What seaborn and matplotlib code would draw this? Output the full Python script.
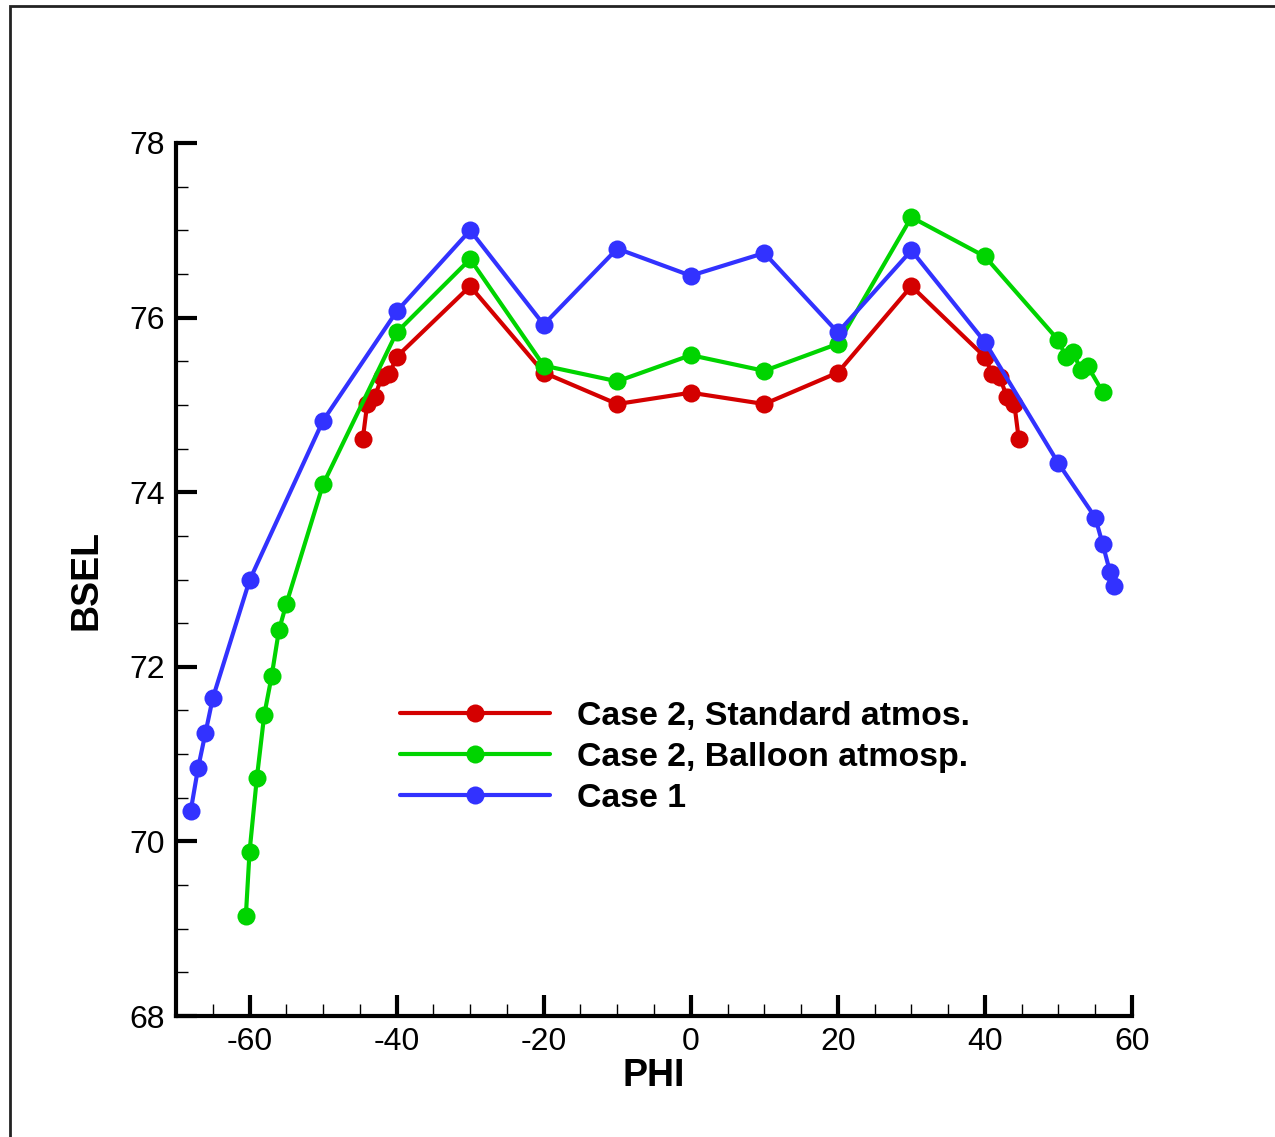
import numpy as np
import pandas as pd
import seaborn as sns
import matplotlib
matplotlib.use("Agg")
import matplotlib.pyplot as plt
from matplotlib.patches import Rectangle
from matplotlib.ticker import MultipleLocator

# ---- data ----
labels = ["Case 2, Standard atmos.", "Case 2, Balloon atmosp.", "Case 1"]
colors = ["#D40000", "#00D400", "#3232FF"]

red_x = [-44.6, -44, -43, -42, -41, -40, -30, -20, -10, 0, 10, 20, 30, 40, 41, 42, 43, 44, 44.6]
red_y = [74.61, 75.01, 75.09, 75.32, 75.35, 75.55, 76.36, 75.37, 75.01, 75.14, 75.01, 75.37, 76.36,
         75.55, 75.35, 75.32, 75.09, 75.01, 74.61]

green_x = [-60.5, -60, -59, -58, -57, -56, -55, -50, -40, -30, -20, -10, 0, 10, 20, 30, 40,
           50, 51, 52, 53, 54, 56]
green_y = [69.15, 69.88, 70.73, 71.45, 71.89, 72.42, 72.72, 74.09, 75.83, 76.67, 75.45, 75.27,
           75.57, 75.39, 75.70, 77.15, 76.70, 75.74, 75.55, 75.61, 75.40, 75.44, 75.15]

blue_x = [-68, -67, -66, -65, -60, -50, -40, -30, -20, -10, 0, 10, 20, 30, 40, 50, 55, 56, 57, 57.5]
blue_y = [70.35, 70.84, 71.24, 71.64, 72.99, 74.82, 76.07, 77.0, 75.92, 76.79, 76.48, 76.74,
          75.83, 76.77, 75.72, 74.33, 73.71, 73.41, 73.09, 72.92]

xticks = [-60, -40, -20, 0, 20, 40, 60]
yticks = [68, 70, 72, 74, 76, 78]

frames = []
for lab, xs, ys in zip(labels, [red_x, green_x, blue_x], [red_y, green_y, blue_y]):
    frames.append(pd.DataFrame({"PHI": xs, "BSEL": ys, "case": lab,
                                "order": np.arange(len(xs))}))
df = pd.concat(frames, ignore_index=True)

sns.set_style("ticks")
plt.rcParams["font.family"] = ["Liberation Sans", "DejaVu Sans"]
plt.rcParams["text.color"] = "black"
plt.rcParams["axes.labelcolor"] = "black"
plt.rcParams["xtick.color"] = "black"
plt.rcParams["ytick.color"] = "black"

fig = plt.figure(figsize=(12.75, 11.37), dpi=100)
ax = fig.add_axes([176/1275, 1 - 1016/1137, (1132-176)/1275, (1016-143)/1137])

sns.lineplot(data=df, x="PHI", y="BSEL", hue="case", hue_order=labels, palette=colors,
             sort=False, estimator=None, units="case", marker="o", markersize=13,
             markeredgewidth=0, linewidth=3, ax=ax, legend=False)

ax.set_xlim(-70, 60)
ax.set_ylim(68, 78)
ax.set_xticks(xticks)
ax.set_yticks(yticks)
ax.xaxis.set_minor_locator(MultipleLocator(5))
ax.yaxis.set_minor_locator(MultipleLocator(0.5))
ax.set_xticklabels([str(t) for t in xticks])
ax.set_yticklabels([str(t) for t in yticks])

for s in ["top", "right"]:
    ax.spines[s].set_visible(False)
for s in ["left", "bottom"]:
    ax.spines[s].set_linewidth(3)
    ax.spines[s].set_color("black")

ax.tick_params(which="major", direction="in", length=15, width=3, labelsize=23, pad=8,
               color="black", labelcolor="black")
ax.tick_params(which="minor", direction="in", length=8.5, width=1, color="black")

ax.set_xlabel("PHI", fontsize=27, fontweight="bold", labelpad=1, color="black")
ax.set_ylabel("BSEL", fontsize=27, fontweight="bold", labelpad=18, color="black")
ax.grid(False)
ax.set_facecolor("white")

handles = ax.lines[:3]
leg = ax.legend(handles, labels, loc="upper left", bbox_to_anchor=(400/1275, 1 - 701/1137),
                bbox_transform=fig.transFigure, frameon=False, handlelength=4.43,
                handletextpad=0.8, labelspacing=0.3, borderpad=0, borderaxespad=0,
                numpoints=1, prop={"size": 24.4, "weight": "bold"})
for t in leg.get_texts():
    t.set_color("black")

fig.patches.append(Rectangle((9.5/1275, -0.1), 1.2, 1.1 - 6/1137, transform=fig.transFigure,
                             fill=False, lw=2, edgecolor="#222222"))

fig.savefig("out.png", dpi=100, facecolor="white")
